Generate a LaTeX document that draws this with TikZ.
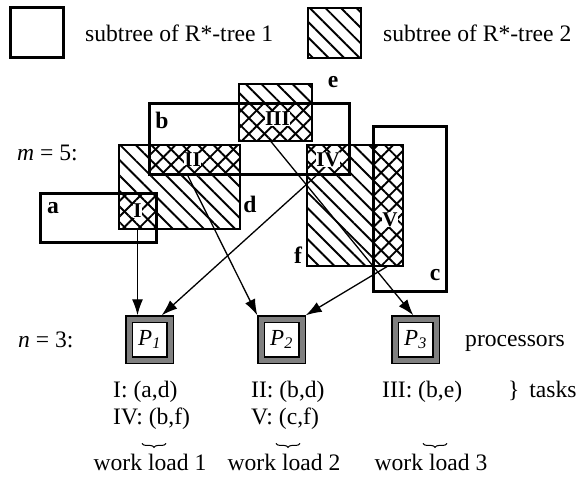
\documentclass[tikz,border=0pt]{standalone}
\usepackage{fontspec}
\setmainfont{Liberation Serif}
\usetikzlibrary{arrows.meta,patterns.meta,decorations.pathreplacing}
\newcommand{\figfont}{\fontsize{23.6}{27}\selectfont}

\begin{document}
\begin{tikzpicture}[x=1pt,y=-1pt,font=\figfont]
      \useasboundingbox (0,0) rectangle (577,476);

      \tikzstyle{tree1} = [
        rectangle,
        draw=black,
        line width=3pt,
        anchor=north west,
        inner sep=0pt,
        outer sep=0pt,
      ]
      \tikzstyle{tree2} = [
        rectangle,
        draw=black,
        line width=1.8pt,
        anchor=north west,
        inner sep=0pt,
        outer sep=0pt,
        pattern={Lines[angle=-45,distance=11pt,line width=1.9pt]}
      ]
      \tikzstyle{cross} = [
        rectangle,
        anchor=north west,
        inner sep=0pt,
        outer sep=0pt,
        pattern={Lines[angle=45,distance=11pt,line width=1.9pt]}
      ]
      \tikzstyle{proc} = [
        rectangle,
        draw=black,
        line width=1.2pt,
        double=black!50,
        double distance=5pt,
        fill=white,
        minimum size=41pt,
        inner sep=0pt,
        outer sep=3.7pt,
        font=\fontsize{23}{26}\selectfont
      ]
      \tikzstyle{numeral} = [fill=white, inner sep=0pt, font=\fontsize{21}{24}\selectfont\bfseries]
      \tikzstyle{letter} = [inner sep=0pt, font=\figfont\bfseries]
      \tikzstyle{txt} = [inner sep=0pt]
      \tikzstyle{arrow} = [line width=1.3pt, -{Latex[length=16pt,width=11pt]}]
      \tikzstyle{brace} = [line width=1pt, decorate, decoration={brace, mirror, amplitude=4pt}]

      % legend
      \node[tree1, minimum width=53pt, minimum height=50pt] (legendOne) at (10,8) {};
      \node[txt, anchor=base west] (legendOneLabel) at (85,42) {subtree of R*-tree 1};
      \node[tree2, minimum width=53pt, minimum height=50pt] (legendTwo) at (308,8) {};
      \node[txt, anchor=base west] (legendTwoLabel) at (383,42) {subtree of R*-tree 2};

      % subtrees of tree 2
      \node[tree2, minimum width=121pt, minimum height=84pt] (boxD) at (119,145) {};
      \node[tree2, minimum width=73pt, minimum height=57pt] (boxE) at (239,84) {};
      \node[tree2, minimum width=96pt, minimum height=121pt] (boxF) at (307,145) {};

      % overlaps
      \node[cross, minimum width=37pt, minimum height=36pt] (crossI) at (119,193) {};
      \node[cross, minimum width=91pt, minimum height=29pt] (crossII) at (149,145) {};
      \node[cross, minimum width=73pt, minimum height=38pt] (crossIII) at (239,103) {};
      \node[cross, minimum width=42pt, minimum height=29pt] (crossIV) at (307,145) {};
      \node[cross, minimum width=30pt, minimum height=121pt] (crossV) at (373,145) {};

      % subtrees of tree 1
      \node[tree1, minimum width=116pt, minimum height=49pt] (boxA) at (40,193) {};
      \node[tree1, minimum width=200pt, minimum height=71pt] (boxB) at (149,103) {};
      \node[tree1, minimum width=73pt, minimum height=165pt] (boxC) at (373,126) {};

      % numerals
      \node[numeral] (numI) at (crossI.center) {I};
      \node[numeral] (numII) at ([xshift=-2pt] crossII.center) {II};
      \node[numeral] (numIII) at ([xshift=2pt,yshift=3pt] crossIII.center) {III};
      \node[numeral] (numIV) at (crossIV.center) {IV};
      \node[numeral] (numV) at ([xshift=2pt,yshift=-14pt] crossV.center) {V};

      % letters
      \node[letter] (labelA) at ([xshift=13pt,yshift=-15pt] boxA.north west) {a};
      \node[letter] (labelB) at ([xshift=13pt,yshift=-17pt] boxB.north west) {b};
      \node[letter] (labelC) at ([xshift=-11pt,yshift=16pt] boxC.south east) {c};
      \node[letter] (labelD) at ([xshift=10pt,yshift=25pt] boxD.south east) {d};
      \node[letter] (labelE) at ([xshift=21pt,yshift=2pt] boxE.north east) {e};
      \node[letter] (labelF) at ([xshift=-9pt,yshift=11pt] boxF.south west) {f};

      % processors
      \node[proc] (proc1) at (149.5,339.5) {\textit{P}\textsubscript{\textit{1}}};
      \node[proc] (proc2) at (281.5,339.5) {\textit{P}\textsubscript{\textit{2}}};
      \node[proc] (proc3) at (415.5,339.5) {\textit{P}\textsubscript{\textit{3}}};

      % side labels
      \node[txt, anchor=base west] (labelM) at (17,160) {\textit{m} = 5:};
      \node[txt, anchor=base west] (labelN) at (18,347) {\textit{n} = 3:};
      \node[txt, anchor=base west] (labelProc) at (465,346) {processors};
      \node[txt, anchor=base west] (labelTasks) at (508,397) {\}\, tasks};

      % tasks
      \node[txt, anchor=base west] (task1a) at (113,397) {I: (a,d)};
      \node[txt, anchor=base west] (task1b) at (113,424) {IV: (b,f)};
      \node[txt, anchor=base west] (task2a) at (251,397) {II: (b,d)};
      \node[txt, anchor=base west] (task2b) at (251,424) {V: (c,f)};
      \node[txt, anchor=base west] (task3a) at (382,397) {III: (b,e)};

      % work loads
      \node[txt, anchor=base] (load1) at (150,470) {work load 1};
      \node[txt, anchor=base] (load2) at (284,470) {work load 2};
      \node[txt, anchor=base] (load3) at (431,470) {work load 3};
      \draw[brace] ([xshift=-8pt,yshift=10pt] load1.north) -- ([xshift=16pt,yshift=10pt] load1.north);
      \draw[brace] ([xshift=-8pt,yshift=10pt] load2.north) -- ([xshift=16pt,yshift=10pt] load2.north);
      \draw[brace] ([xshift=-8pt,yshift=10pt] load3.north) -- ([xshift=16pt,yshift=10pt] load3.north);

      % assignments
      \draw[arrow] (crossI.south) -- (crossI.south |- proc1.north);
      \draw[arrow] ([xshift=-10pt] crossIV.south) -- ([xshift=-12pt] proc1.north east);
      \draw[arrow] ([xshift=-7.5pt] crossII.south) -- (proc2.north west);
      \draw[arrow] (crossV.south) -- (proc2.north east);
      \draw[arrow] ([xshift=-5pt] crossIII.south) -- ([xshift=22pt] proc3.north west);
    \end{tikzpicture}
\end{document}
